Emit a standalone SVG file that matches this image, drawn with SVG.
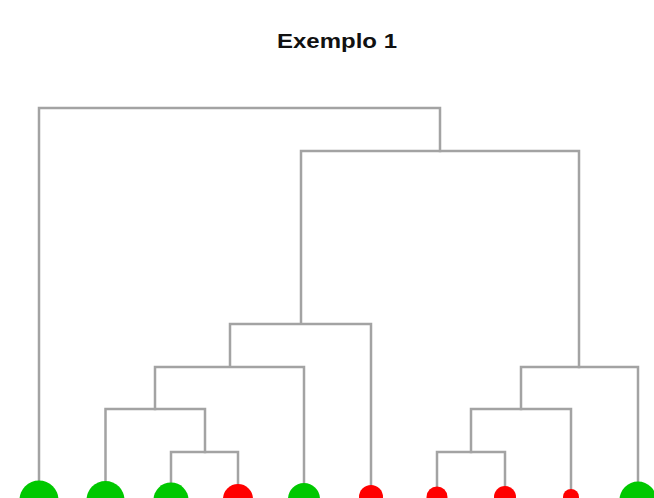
<svg xmlns="http://www.w3.org/2000/svg" width="654" height="498" viewBox="0 0 654 498">
<style>
.ln{fill:none;stroke:#a3a3a3;stroke-width:2.5;stroke-linejoin:miter;stroke-linecap:square}
.g{fill:#00c800}
.r{fill:#ff0000}
.t{font-family:"Liberation Sans",Arial,sans-serif;font-weight:bold;font-size:20px;fill:#111}
</style>
<rect width="654" height="498" fill="#ffffff"/>
<text class="t" x="277" y="48" textLength="120" lengthAdjust="spacingAndGlyphs">Exemplo 1</text>
<g id="connectors">
<path class="ln" d="M39,498 V108 H440 V151"/>
<path class="ln" d="M301,323 V151 H579 V367"/>
<path class="ln" d="M230,366 V324 H371 V498"/>
<path class="ln" d="M155,409 V367 H304 V498"/>
<path class="ln" d="M105.5,498 V409 H205 V452"/>
<path class="ln" d="M171,498 V452 H238 V498"/>
<path class="ln" d="M521,409 V367 H638 V498"/>
<path class="ln" d="M471,452 V409 H571 V498"/>
<path class="ln" d="M437,498 V452 H505 V498"/>
</g>
<g id="leaf1"><circle class="g" cx="39" cy="500" r="19.5"/></g>
<g id="leaf2"><circle class="g" cx="105.5" cy="500" r="19"/></g>
<g id="leaf3"><circle class="g" cx="171" cy="500" r="17.5"/></g>
<g id="leaf4"><circle class="r" cx="238" cy="499" r="15"/></g>
<g id="leaf5"><circle class="g" cx="304" cy="499" r="16"/></g>
<g id="leaf6"><circle class="r" cx="371" cy="497" r="12"/></g>
<g id="leaf7"><circle class="r" cx="437" cy="497" r="10.5"/></g>
<g id="leaf8"><circle class="r" cx="505" cy="497" r="11"/></g>
<g id="leaf9"><circle class="r" cx="571" cy="497" r="8"/></g>
<g id="leaf10"><circle class="g" cx="638" cy="500" r="18.5"/></g>
</svg>
